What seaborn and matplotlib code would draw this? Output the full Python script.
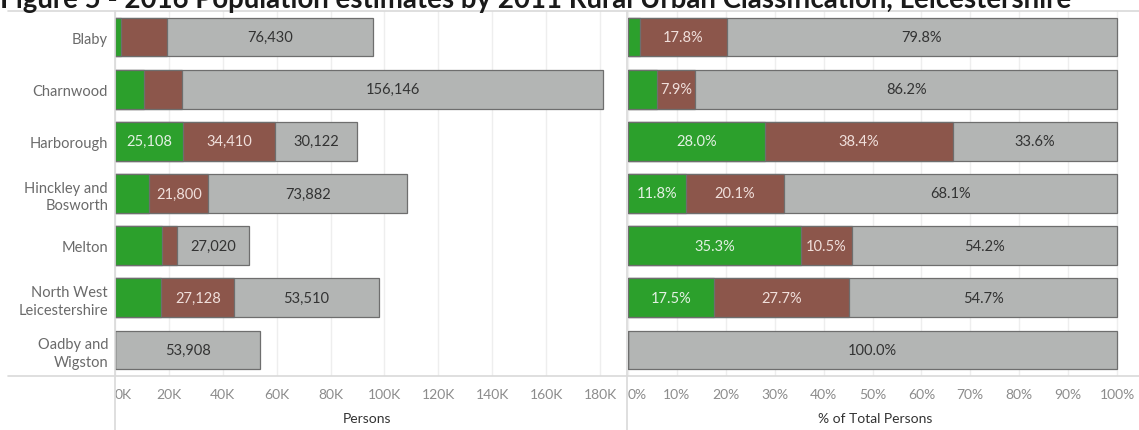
import matplotlib
matplotlib.use("Agg")
import matplotlib.pyplot as plt
import seaborn as sns
import pandas as pd
import numpy as np
from matplotlib.lines import Line2D

# ---------------- data ----------------
districts = ["Blaby", "Charnwood", "Harborough", "Hinckley and\nBosworth",
             "Melton", "North West\nLeicestershire", "Oadby and\nWigston"]
rural_village = [2299, 10688, 25108, 12800, 17598, 17150, 0]
rural_town = [17048, 14310, 34410, 21800, 5234, 27128, 0]
urban = [76430, 156146, 30122, 73882, 27020, 53510, 53908]
persons_ticks = [0, 20000, 40000, 60000, 80000, 100000, 120000, 140000, 160000, 180000]
persons_tick_labels = ["0K", "20K", "40K", "60K", "80K", "100K", "120K", "140K", "160K", "180K"]
pct_ticks = [0, 0.1, 0.2, 0.3, 0.4, 0.5, 0.6, 0.7, 0.8, 0.9, 1.0]
pct_tick_labels = ["0%", "10%", "20%", "30%", "40%", "50%", "60%", "70%", "80%", "90%", "100%"]
title = "Figure 5 - 2016 Population estimates by 2011 Rural Urban Classification, Leicestershire"

# ---------------- style ----------------
sns.set_theme(style="white")
plt.rcParams["font.family"] = ["Lato", "DejaVu Sans"]

GREEN = "#2ca02c"
BROWN = "#8c564b"
GREY = "#b3b5b4"
EDGE = "#6e6e6e"
TXT_GREEN = "#e3f1e3"
TXT_BROWN = "#f0dfdb"
TXT_GREY = "#333333"
LINE = "#d9d9d9"

df = pd.DataFrame({"district": districts, "v1": rural_village, "v2": rural_town, "v3": urban})
df["total"] = df[["v1", "v2", "v3"]].sum(axis=1)
df["c1"] = df["v1"]
df["c2"] = df["v1"] + df["v2"]
df["c3"] = df["total"]
for k in ["v1", "v2", "v3", "c1", "c2", "c3"]:
    df["p_" + k] = df[k] / df["total"]

W, H = 1139, 431
fig = plt.figure(figsize=(W / 100, H / 100), dpi=100)
top_px, bot_px = 12, 377
axL = fig.add_axes([115 / W, 1 - bot_px / H, (620 - 115) / W, (bot_px - top_px) / H])
axR = fig.add_axes([628 / W, 1 - bot_px / H, (1122 - 628) / W, (bot_px - top_px) / H])

bar_kw = dict(orient="h", edgecolor=EDGE, linewidth=0.9, width=0.74, saturation=1)

def draw(ax, prefix):
    for col, color in [("c3", GREY), ("c2", BROWN), ("c1", GREEN)]:
        sns.barplot(data=df, y="district", x=prefix + col, color=color, ax=ax, **bar_kw)

draw(axL, "")
draw(axR, "p_")

axL.set_xlim(0, 187400)
axR.set_xlim(0, 1.0102)
for ax in (axL, axR):
    ax.set_ylim(6.5, -0.5)
    for s in ax.spines.values():
        s.set_visible(False)
    ax.set_axisbelow(True)
    ax.xaxis.grid(True, color="#eeeeee", linewidth=1)
    ax.yaxis.grid(False)
    ax.tick_params(axis="both", length=0)
    ax.set_ylabel("")

axL.set_xticks(persons_ticks)
axL.set_xticklabels(persons_tick_labels)
axR.set_xticks(pct_ticks)
axR.set_xticklabels(pct_tick_labels)
for ax in (axL, axR):
    ax.tick_params(axis="x", labelsize=10, labelcolor="#8c8c8c", pad=8.5)
    ax.get_xticklabels()[0].set_horizontalalignment("left")

axL.set_yticks(range(len(districts)))
axL.set_yticklabels(districts, fontsize=10.5, color="#6a6a6a", linespacing=1.3)
axL.tick_params(axis="y", pad=5)
axR.set_yticks(range(len(districts)))
axR.set_yticklabels([])

axL.set_xlabel("Persons", fontsize=10, color="#333333", labelpad=9)
axR.set_xlabel("% of Total Persons", fontsize=10, color="#333333", labelpad=9)

# ---------------- labels in bars ----------------
fig.canvas.draw()
renderer = fig.canvas.get_renderer()

def px_width(ax, x0, x1):
    a = ax.transData.transform((x0, 0))[0]
    b = ax.transData.transform((x1, 0))[0]
    return abs(b - a)

def annotate(ax, prefix, fmt):
    segs = [("v1", "c1", TXT_GREEN), ("v2", "c2", TXT_BROWN), ("v3", "c3", TXT_GREY)]
    for i, row in df.iterrows():
        for vk, ck, tc in segs:
            val = row[prefix + vk]
            if val <= 0:
                continue
            end = row[prefix + ck]
            start = end - val
            t = ax.text((start + end) / 2, i, fmt(row, vk, val), ha="center", va="center",
                        fontsize=10.5, color=tc)
            tw = t.get_window_extent(renderer).width
            if px_width(ax, start, end) < tw + 4:
                t.remove()

annotate(axL, "", lambda r, k, v: f"{int(round(v)):,}")
annotate(axR, "p_", lambda r, k, v: f"{v * 100:.1f}%")

# ---------------- frame lines ----------------
def fy(p):
    return 1 - p / H

def fx(p):
    return p / W

fig.add_artist(Line2D([fx(8), 1], [fy(12), fy(12)], color=LINE, lw=1.2))
fig.add_artist(Line2D([fx(8), 1], [fy(377), fy(377)], color=LINE, lw=1.2))
fig.add_artist(Line2D([fx(115), fx(115)], [fy(12), 0], color=LINE, lw=1.2))
fig.add_artist(Line2D([fx(627), fx(627)], [fy(12), 0], color=LINE, lw=1.2))

# ---------------- title (partially clipped at top, as in reference) ----------------
tt = fig.text(0.0, fy(7.7), title, ha="left", va="baseline", fontsize=18,
              fontweight="bold", color="#1a1a1a")
fig.canvas.draw()
w = tt.get_window_extent(fig.canvas.get_renderer()).width
tt.set_fontsize(18 * 1075 / w)

fig.savefig("out.png", dpi=100)
